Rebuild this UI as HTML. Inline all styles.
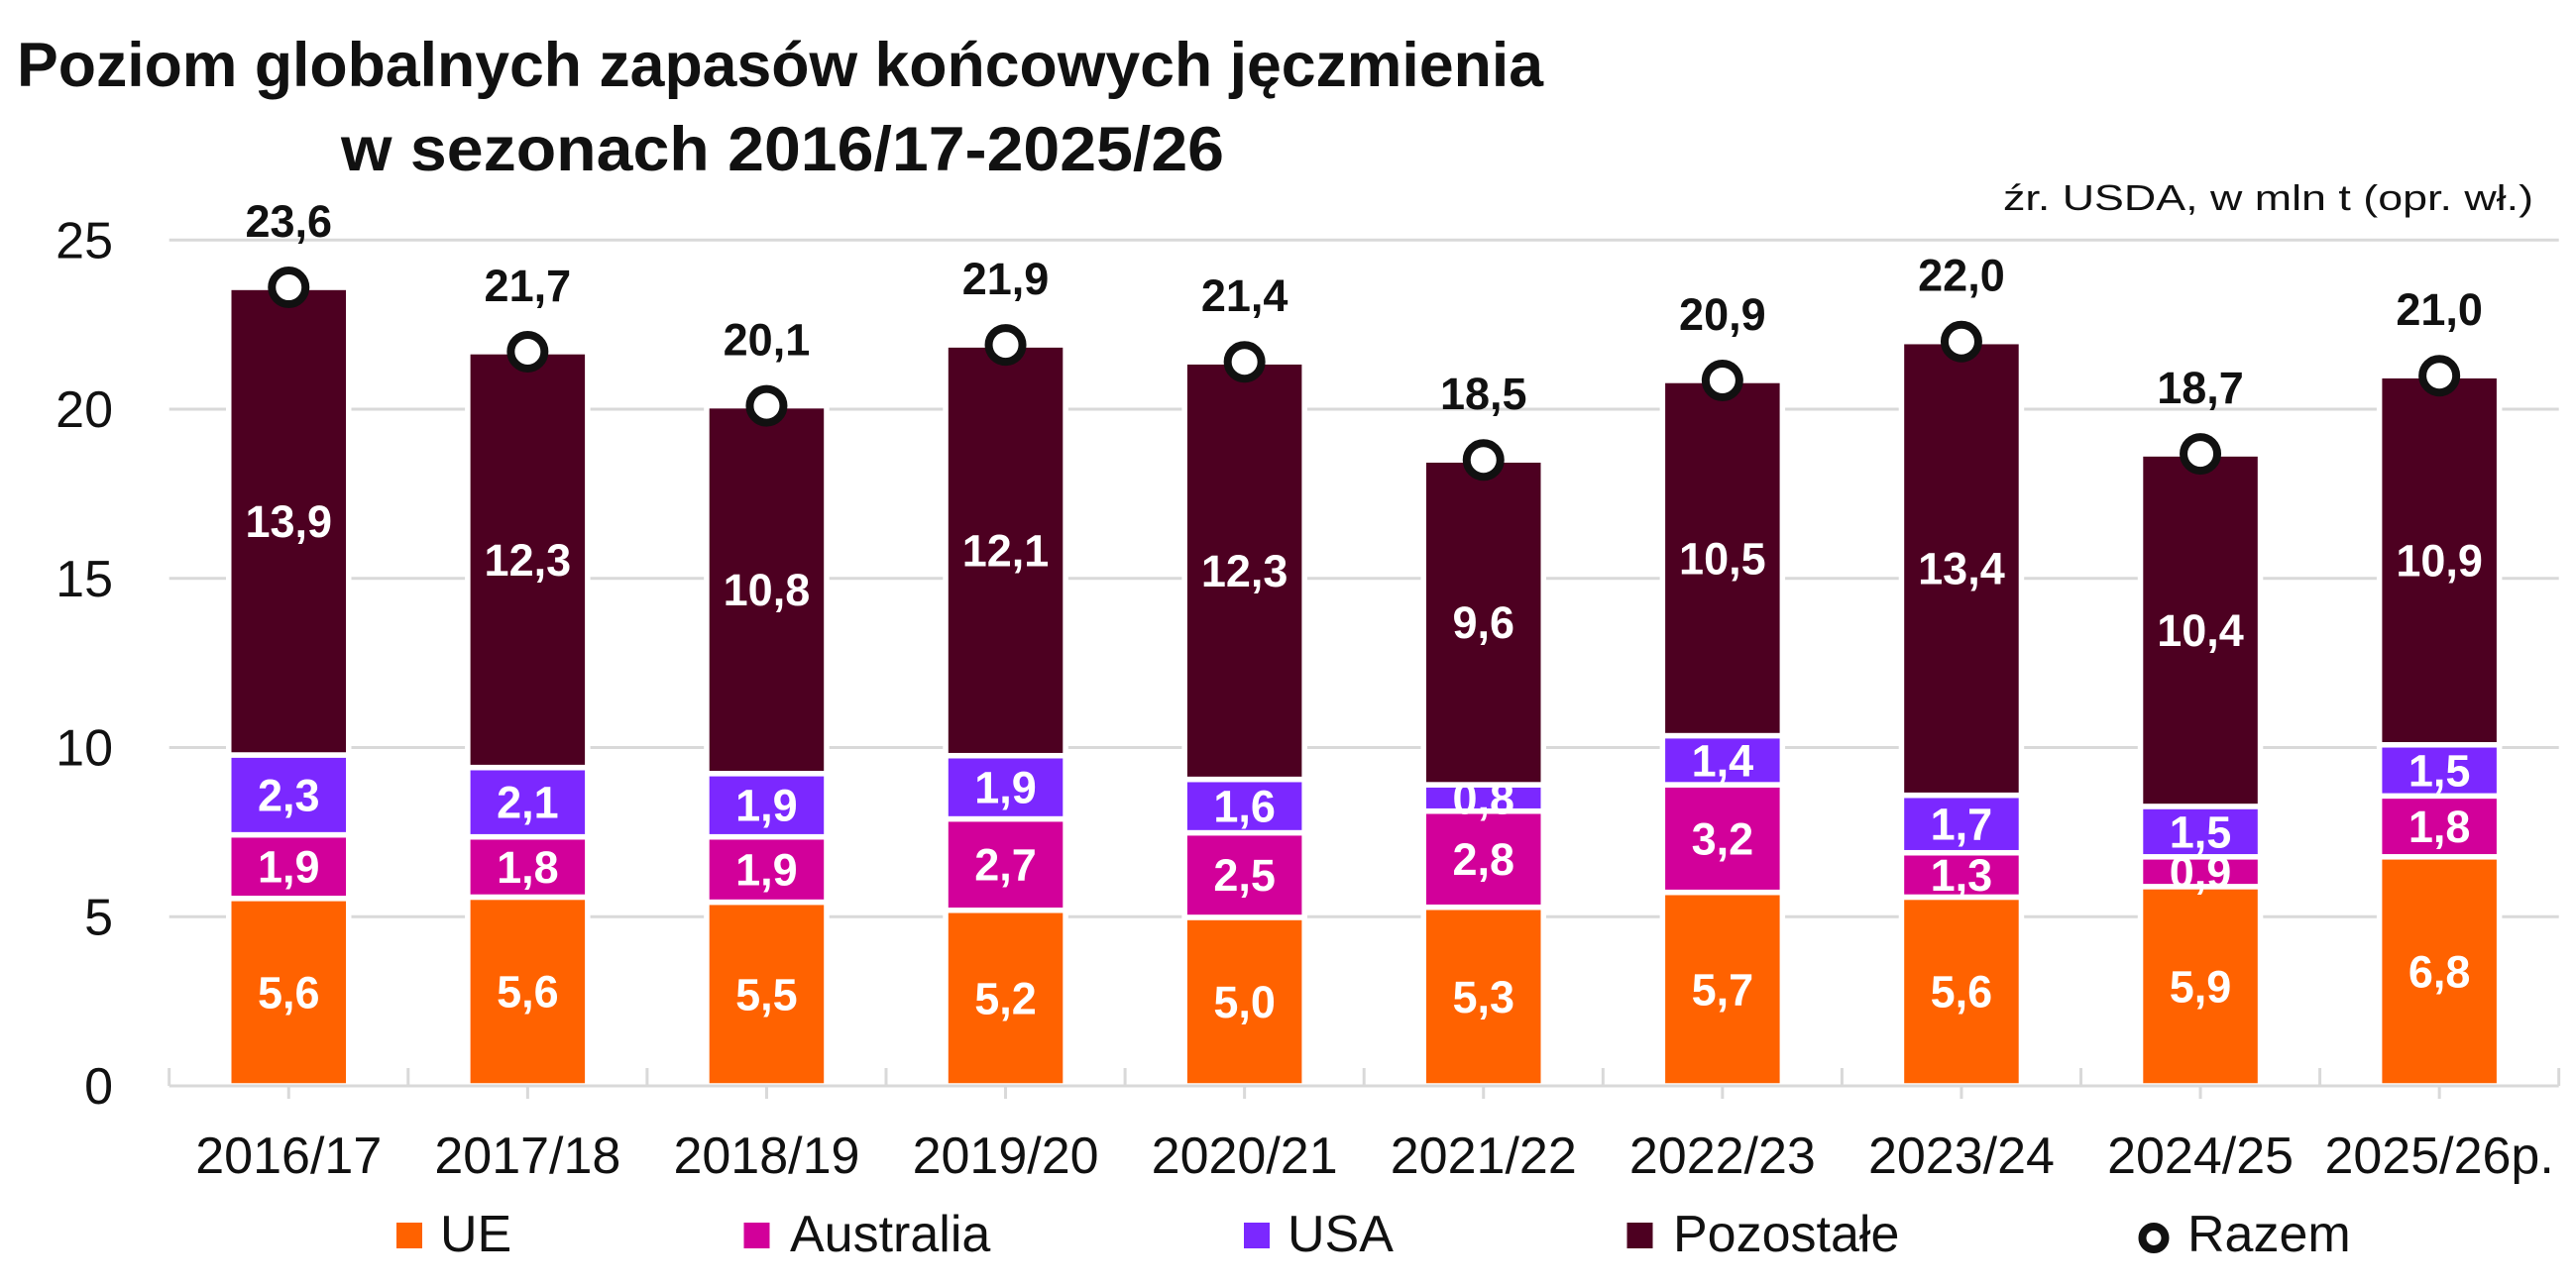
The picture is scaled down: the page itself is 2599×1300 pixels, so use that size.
<!DOCTYPE html>
<html>
<head>
<meta charset="utf-8">
<style>
  html, body { margin: 0; padding: 0; background: #ffffff; }
  svg { display: block; }
  text { font-family: "Liberation Sans", "DejaVu Sans", sans-serif; }
  .ax { font-size: 52px; fill: #111; }
  .lab { font-size: 45px; font-weight: bold; fill: #ffffff; text-anchor: middle; }
  .tot { font-size: 45px; font-weight: bold; fill: #111; text-anchor: middle; }
  .leg { font-size: 52px; fill: #111; }
</style>
</head>
<body>
<svg width="2599" height="1300" viewBox="0 0 2599 1300" xmlns="http://www.w3.org/2000/svg">
  <rect x="0" y="0" width="2599" height="1300" fill="#ffffff"/>

  <!-- Title -->
  <text x="17" y="87" font-size="63" font-weight="bold" fill="#111" textLength="1540" lengthAdjust="spacingAndGlyphs">Poziom globalnych zapasów końcowych jęczmienia</text>
  <text x="344" y="172" font-size="63" font-weight="bold" fill="#111" textLength="891" lengthAdjust="spacingAndGlyphs">w sezonach 2016/17-2025/26</text>
  <text x="2021" y="212" font-size="36" fill="#111" textLength="535" lengthAdjust="spacingAndGlyphs">źr. USDA, w mln t (opr. wł.)</text>

  <!-- Gridlines -->
  <g stroke="#d9d9d9" stroke-width="3">
    <line x1="170.7" y1="925.25" x2="2581.7" y2="925.25"/>
    <line x1="170.7" y1="754.5" x2="2581.7" y2="754.5"/>
    <line x1="170.7" y1="583.75" x2="2581.7" y2="583.75"/>
    <line x1="170.7" y1="413" x2="2581.7" y2="413"/>
    <line x1="170.7" y1="242.25" x2="2581.7" y2="242.25"/>
  </g>

  <!-- Y axis labels -->
  <g class="ax" text-anchor="end">
    <text x="114" y="1114">0</text>
    <text x="114" y="943.25">5</text>
    <text x="114" y="772.5">10</text>
    <text x="114" y="601.75">15</text>
    <text x="114" y="431">20</text>
    <text x="114" y="260.25">25</text>
  </g>

  <!-- Bars -->
  <g stroke="#ffffff" stroke-width="5.5">
    <!-- 0 -->
    <rect x="230.75" y="906.81" width="121" height="189.19" fill="#FF6200"/>
    <rect x="230.75" y="842.61" width="121" height="64.2" fill="#D2009A"/>
    <rect x="230.75" y="762.01" width="121" height="80.6" fill="#7B28FF"/>
    <rect x="230.75" y="290.06" width="121" height="471.95" fill="#4D0021"/>
    <!-- 1 -->
    <rect x="471.85" y="905.44" width="121" height="190.56" fill="#FF6200"/>
    <rect x="471.85" y="844.66" width="121" height="60.78" fill="#D2009A"/>
    <rect x="471.85" y="774.65" width="121" height="70.01" fill="#7B28FF"/>
    <rect x="471.85" y="354.94" width="121" height="419.71" fill="#4D0021"/>
    <!-- 2 -->
    <rect x="712.95" y="910.57" width="121" height="185.43" fill="#FF6200"/>
    <rect x="712.95" y="844.66" width="121" height="65.91" fill="#D2009A"/>
    <rect x="712.95" y="780.8" width="121" height="63.86" fill="#7B28FF"/>
    <rect x="712.95" y="409.58" width="121" height="371.22" fill="#4D0021"/>
    <!-- 3 -->
    <rect x="954.05" y="918.76" width="121" height="177.24" fill="#FF6200"/>
    <rect x="954.05" y="826.56" width="121" height="92.2" fill="#D2009A"/>
    <rect x="954.05" y="762.7" width="121" height="63.86" fill="#7B28FF"/>
    <rect x="954.05" y="348.11" width="121" height="414.59" fill="#4D0021"/>
    <!-- 4 -->
    <rect x="1195.15" y="925.93" width="121" height="170.07" fill="#FF6200"/>
    <rect x="1195.15" y="840.56" width="121" height="85.37" fill="#D2009A"/>
    <rect x="1195.15" y="786.6" width="121" height="53.96" fill="#7B28FF"/>
    <rect x="1195.15" y="365.19" width="121" height="421.41" fill="#4D0021"/>
    <!-- 5 -->
    <rect x="1436.25" y="915.69" width="121" height="180.31" fill="#FF6200"/>
    <rect x="1436.25" y="818.7" width="121" height="96.99" fill="#D2009A"/>
    <rect x="1436.25" y="792.06" width="121" height="26.64" fill="#7B28FF"/>
    <rect x="1436.25" y="464.22" width="121" height="327.84" fill="#4D0021"/>
    <!-- 6 -->
    <rect x="1677.35" y="900.66" width="121" height="195.34" fill="#FF6200"/>
    <rect x="1677.35" y="792.06" width="121" height="108.6" fill="#D2009A"/>
    <rect x="1677.35" y="742.55" width="121" height="49.51" fill="#7B28FF"/>
    <rect x="1677.35" y="383.97" width="121" height="358.58" fill="#4D0021"/>
    <!-- 7 -->
    <rect x="1918.45" y="905.44" width="121" height="190.56" fill="#FF6200"/>
    <rect x="1918.45" y="860.71" width="121" height="44.73" fill="#D2009A"/>
    <rect x="1918.45" y="802.65" width="121" height="58.06" fill="#7B28FF"/>
    <rect x="1918.45" y="344.7" width="121" height="457.95" fill="#4D0021"/>
    <!-- 8 -->
    <rect x="2159.55" y="894.86" width="121" height="201.14" fill="#FF6200"/>
    <rect x="2159.55" y="864.8" width="121" height="30.06" fill="#D2009A"/>
    <rect x="2159.55" y="813.92" width="121" height="50.88" fill="#7B28FF"/>
    <rect x="2159.55" y="458.08" width="121" height="355.84" fill="#4D0021"/>
    <!-- 9 -->
    <rect x="2400.65" y="864.8" width="121" height="231.2" fill="#FF6200"/>
    <rect x="2400.65" y="803.33" width="121" height="61.47" fill="#D2009A"/>
    <rect x="2400.65" y="751.77" width="121" height="51.56" fill="#7B28FF"/>
    <rect x="2400.65" y="379.19" width="121" height="372.58" fill="#4D0021"/>
  </g>

  <!-- X axis line and ticks -->
  <g stroke="#d9d9d9" stroke-width="3">
    <line x1="170.7" y1="1096" x2="2581.7" y2="1096"/>
    <line x1="170.7" y1="1078" x2="170.7" y2="1096"/>
    <line x1="411.8" y1="1078" x2="411.8" y2="1096"/>
    <line x1="652.9" y1="1078" x2="652.9" y2="1096"/>
    <line x1="894" y1="1078" x2="894" y2="1096"/>
    <line x1="1135.1" y1="1078" x2="1135.1" y2="1096"/>
    <line x1="1376.2" y1="1078" x2="1376.2" y2="1096"/>
    <line x1="1617.3" y1="1078" x2="1617.3" y2="1096"/>
    <line x1="1858.4" y1="1078" x2="1858.4" y2="1096"/>
    <line x1="2099.5" y1="1078" x2="2099.5" y2="1096"/>
    <line x1="2340.6" y1="1078" x2="2340.6" y2="1096"/>
    <line x1="2581.7" y1="1078" x2="2581.7" y2="1096"/>
    <line x1="291.25" y1="1097" x2="291.25" y2="1109"/>
    <line x1="532.35" y1="1097" x2="532.35" y2="1109"/>
    <line x1="773.45" y1="1097" x2="773.45" y2="1109"/>
    <line x1="1014.55" y1="1097" x2="1014.55" y2="1109"/>
    <line x1="1255.65" y1="1097" x2="1255.65" y2="1109"/>
    <line x1="1496.75" y1="1097" x2="1496.75" y2="1109"/>
    <line x1="1737.85" y1="1097" x2="1737.85" y2="1109"/>
    <line x1="1978.95" y1="1097" x2="1978.95" y2="1109"/>
    <line x1="2220.05" y1="1097" x2="2220.05" y2="1109"/>
    <line x1="2461.15" y1="1097" x2="2461.15" y2="1109"/>
  </g>

  <!-- Segment labels -->
  <g class="lab">
    <text x="291.25" y="1017.4">5,6</text>
    <text x="291.25" y="890.7">1,9</text>
    <text x="291.25" y="818.3">2,3</text>
    <text x="291.25" y="542">13,9</text>

    <text x="532.35" y="1016.7">5,6</text>
    <text x="532.35" y="891.1">1,8</text>
    <text x="532.35" y="825.7">2,1</text>
    <text x="532.35" y="580.8">12,3</text>

    <text x="773.45" y="1019.3">5,5</text>
    <text x="773.45" y="893.6">1,9</text>
    <text x="773.45" y="828.7">1,9</text>
    <text x="773.45" y="611.2">10,8</text>

    <text x="1014.55" y="1023.4">5,2</text>
    <text x="1014.55" y="888.7">2,7</text>
    <text x="1014.55" y="810.6">1,9</text>
    <text x="1014.55" y="571.4">12,1</text>

    <text x="1255.65" y="1027">5,0</text>
    <text x="1255.65" y="899.2">2,5</text>
    <text x="1255.65" y="829.6">1,6</text>
    <text x="1255.65" y="591.9">12,3</text>

    <text x="1496.75" y="1021.8">5,3</text>
    <text x="1496.75" y="883.2">2,8</text>
    <text x="1496.75" y="821.4">0,8</text>
    <text x="1496.75" y="644.1">9,6</text>

    <text x="1737.85" y="1014.3">5,7</text>
    <text x="1737.85" y="862.4">3,2</text>
    <text x="1737.85" y="783.3">1,4</text>
    <text x="1737.85" y="579.3">10,5</text>

    <text x="1978.95" y="1016.7">5,6</text>
    <text x="1978.95" y="899.1">1,3</text>
    <text x="1978.95" y="847.7">1,7</text>
    <text x="1978.95" y="589.7">13,4</text>

    <text x="2220.05" y="1011.4">5,9</text>
    <text x="2220.05" y="895.8">0,9</text>
    <text x="2220.05" y="855.4">1,5</text>
    <text x="2220.05" y="652">10,4</text>

    <text x="2461.15" y="996.4">6,8</text>
    <text x="2461.15" y="850.1">1,8</text>
    <text x="2461.15" y="793.6">1,5</text>
    <text x="2461.15" y="581.5">10,9</text>
  </g>

  <!-- Razem markers -->
  <g fill="#ffffff" stroke="#111111" stroke-width="8">
    <circle cx="291.25" cy="290.06" r="17"/>
    <circle cx="532.35" cy="354.94" r="17"/>
    <circle cx="773.45" cy="409.58" r="17"/>
    <circle cx="1014.55" cy="348.11" r="17"/>
    <circle cx="1255.65" cy="365.19" r="17"/>
    <circle cx="1496.75" cy="464.22" r="17"/>
    <circle cx="1737.85" cy="383.97" r="17"/>
    <circle cx="1978.95" cy="344.7" r="17"/>
    <circle cx="2220.05" cy="458.08" r="17"/>
    <circle cx="2461.15" cy="379.19" r="17"/>
  </g>

  <!-- Total labels -->
  <g class="tot">
    <text x="291.25" y="239">23,6</text>
    <text x="532.35" y="303.9">21,7</text>
    <text x="773.45" y="358.6">20,1</text>
    <text x="1014.55" y="297.1">21,9</text>
    <text x="1255.65" y="314.2">21,4</text>
    <text x="1496.75" y="413.2">18,5</text>
    <text x="1737.85" y="333">20,9</text>
    <text x="1978.95" y="293.7">22,0</text>
    <text x="2220.05" y="407.1">18,7</text>
    <text x="2461.15" y="328.2">21,0</text>
  </g>

  <!-- X labels -->
  <g class="ax" text-anchor="middle">
    <text x="291.25" y="1184">2016/17</text>
    <text x="532.35" y="1184">2017/18</text>
    <text x="773.45" y="1184">2018/19</text>
    <text x="1014.55" y="1184">2019/20</text>
    <text x="1255.65" y="1184">2020/21</text>
    <text x="1496.75" y="1184">2021/22</text>
    <text x="1737.85" y="1184">2022/23</text>
    <text x="1978.95" y="1184">2023/24</text>
    <text x="2220.05" y="1184">2024/25</text>
    <text x="2461.15" y="1184">2025/26p.</text>
  </g>

  <!-- Legend -->
  <rect x="400" y="1234" width="26" height="26" fill="#FF6200"/>
  <text class="leg" x="444" y="1263">UE</text>
  <rect x="750.5" y="1234" width="26" height="26" fill="#D2009A"/>
  <text class="leg" x="797" y="1263">Australia</text>
  <rect x="1255" y="1234" width="26" height="26" fill="#7B28FF"/>
  <text class="leg" x="1299" y="1263">USA</text>
  <rect x="1641.5" y="1234" width="26" height="26" fill="#4D0021"/>
  <text class="leg" x="1688" y="1263">Pozostałe</text>
  <circle cx="2173" cy="1249.5" r="11.5" fill="#ffffff" stroke="#111111" stroke-width="8"/>
  <text class="leg" x="2207" y="1263">Razem</text>
</svg>
</body>
</html>
